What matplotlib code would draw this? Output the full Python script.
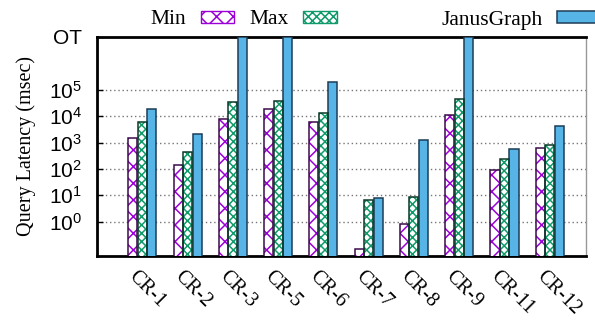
import numpy as np
import matplotlib
matplotlib.use("Agg")
import matplotlib.pyplot as plt
import matplotlib.transforms as mtransforms
from matplotlib.patches import Patch

plt.rcParams['mathtext.fontset'] = 'custom'
plt.rcParams['mathtext.rm'] = 'Liberation Sans'
plt.rcParams['mathtext.it'] = 'Liberation Sans:italic'
plt.rcParams['hatch.linewidth'] = 1.1

categories = ["CR-1", "CR-2", "CR-3", "CR-5", "CR-6", "CR-7", "CR-8", "CR-9", "CR-11", "CR-12"]
min_vals = [1450, 138, 7900, 19000, 5900, 0.096, 0.85, 11000, 89, 605]
max_vals = [5900, 420, 35000, 37000, 13700, 6.9, 8.3, 46000, 245, 790]
OT = None  # out of time -> drawn to the top of the axis
janus_vals = [18600, 2100, OT, OT, 200000, 8.0, 1230, OT, 565, 4200]
ytick_vals = [1, 10, 100, 1e3, 1e4, 1e5, 1e7]
ytick_labels = [r"$10^{0}$", r"$10^{1}$", r"$10^{2}$", r"$10^{3}$", r"$10^{4}$", r"$10^{5}$", "OT"]
y_bottom, y_top = 10 ** -1.3, 1e7

fig = plt.figure(figsize=(5.95, 3.21), dpi=100)
ax = fig.add_axes([97 / 595, 1 - 256 / 321, (586 - 97) / 595, (256 - 37) / 321])

x = np.arange(len(categories))
w = 0.2
off = 0.21
janus_plot = [y_top if v is None else v for v in janus_vals]

# Min bars: purple cross hatch
ax.bar(x - off, min_vals, w, color="white", edgecolor="#9a00d6", hatch="xx", linewidth=0, zorder=3)
ax.bar(x - off, min_vals, w, fill=False, edgecolor="#3a0a4a", linewidth=1.1, zorder=4)
# Max bars: green checker
ax.bar(x, max_vals, w, color="white", edgecolor="#0f9a6a", hatch="xxxx", linewidth=0, zorder=3)
ax.bar(x, max_vals, w, fill=False, edgecolor="#0a3a28", linewidth=1.1, zorder=4)
# JanusGraph bars
ax.bar(x + off, janus_plot, w, color="#56b4e6", edgecolor="#1d3c55", linewidth=1.1, zorder=3)

ax.set_yscale("log")
ax.set_ylim(y_bottom, y_top)
ax.set_xlim(-1.0, 9.8)
ax.set_yticks(ytick_vals)
ax.set_yticklabels(ytick_labels, fontsize=15, family="Liberation Sans")
ax.yaxis.set_minor_locator(matplotlib.ticker.NullLocator())
ax.tick_params(axis="y", direction="in", length=4, width=1, pad=11)

ax.set_xticks(x)
ax.set_xticklabels(categories, rotation=-45, ha="left", va="top", rotation_mode="anchor",
                   fontsize=14.5, family="Liberation Serif")
ax.tick_params(axis="x", length=0, pad=8)
shift = mtransforms.ScaledTranslation(-4 / 100, 0, fig.dpi_scale_trans)
for lbl in ax.get_xticklabels():
    lbl.set_transform(lbl.get_transform() + shift)

ax.yaxis.grid(True, linestyle=(0, (1, 2)), color="#777777", linewidth=1.0, zorder=0)
ax.set_axisbelow(True)

for s in ["left", "bottom", "top"]:
    ax.spines[s].set_linewidth(2)
    ax.spines[s].set_color("black")
ax.spines["right"].set_linewidth(1)
ax.spines["right"].set_color("#999999")

ax.set_ylabel("Query Latency (msec)", family="Liberation Serif", fontsize=14.5, labelpad=9)

h_min = Patch(facecolor="white", edgecolor="#9a00d6", hatch="xx", linewidth=1)
h_max = Patch(facecolor="white", edgecolor="#0f9a6a", hatch="xxxx", linewidth=1)
h_jan = Patch(facecolor="#56b4e6", edgecolor="#1d3c55", linewidth=1.1)

leg_kw = dict(frameon=False, markerfirst=False, borderpad=0, borderaxespad=0,
              handlelength=1.55, handleheight=0.5, handletextpad=0.7, columnspacing=0.7,
              prop={"family": "Liberation Serif", "size": 15.5})
leg1 = fig.legend([h_min, h_max], ["Min", "Max"], ncol=2, loc="center left",
                  bbox_to_anchor=(150 / 595, 1 - 20 / 321), **leg_kw)
leg2 = fig.legend([h_jan], ["JanusGraph"], ncol=1, loc="center left",
                  bbox_to_anchor=(441 / 595, 1 - 20 / 321),
                  **dict(leg_kw, handlelength=2.0))

fig.savefig("out.png", dpi=100)
